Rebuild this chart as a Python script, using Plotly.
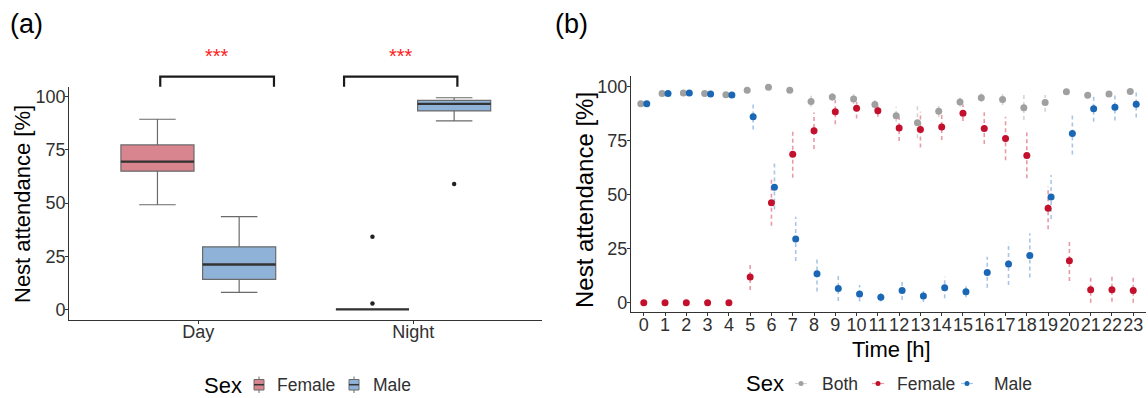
import plotly.graph_objects as go

W, H = 1148, 398
FONT = "Liberation Sans"

# ---------------- Panel (a) data ----------------
periods = ["Day", "Night"]
fem_q1 = [65.0, 0.0]
fem_med = [69.5, 0.0]
fem_q3 = [77.3, 0.0]
fem_lo = [49.2, 0.0]
fem_hi = [89.4, 0.0]
male_q1 = [14.1, 93.3]
male_med = [21.1, 96.6]
male_q3 = [29.4, 98.3]
male_lo = [8.0, 88.6]
male_hi = [43.6, 99.5]
fem_out_period = [2, 2]
fem_out_y = [34.1, 2.8]
male_out_period = [2]
male_out_y = [58.9]
sig_labels = ["***", "***"]

# ---------------- Panel (b) data ----------------
hours = list(range(24))
both_y = [92.1, 96.8, 97.1, 96.8, 96.3, 98.3, 99.7, 98.3, 93.1, 95.2, 94.3, 91.7,
          86.6, 83.3, 88.6, 92.9, 94.9, 94.1, 90.2, 92.7, 97.7, 96.0, 96.6, 97.8]
both_lo = [91.0, 96.0, 96.4, 96.0, 95.5, 97.6, 99.2, 97.6, 90.7, 93.5, 92.0, 89.5,
           83.8, 76.1, 86.0, 90.8, 92.8, 91.5, 84.6, 88.4, 96.5, 94.8, 95.4, 96.6]
both_hi = [93.2, 97.5, 97.8, 97.5, 97.0, 99.0, 100.0, 99.0, 96.0, 97.2, 96.5, 93.8,
           90.7, 91.5, 91.8, 95.0, 97.0, 96.9, 96.6, 96.2, 98.8, 97.2, 97.8, 99.0]
fem_y = [0.0, 0.0, 0.0, 0.0, 0.0, 11.9, 46.3, 68.7, 79.6, 88.4, 90.0, 88.9,
         80.9, 80.2, 81.3, 87.7, 80.7, 76.0, 68.2, 43.7, 19.4, 6.0, 6.0, 5.7]
fem_lo_b = [0.0, 0.0, 0.0, 0.0, 0.0, 5.9, 35.6, 57.9, 71.1, 82.6, 85.3, 86.1,
            74.8, 71.9, 75.3, 84.1, 73.5, 66.0, 57.6, 34.0, 10.0, 0.0, 0.4, 0.0]
fem_hi_b = [0.0, 0.0, 0.0, 0.0, 0.0, 18.0, 57.7, 79.6, 88.1, 93.8, 93.0, 91.8,
            86.1, 88.4, 88.4, 91.8, 88.2, 86.1, 78.8, 53.7, 28.5, 12.0, 12.0, 11.5]
male_y = [92.1, 96.8, 97.1, 96.6, 96.1, 86.1, 53.5, 29.5, 13.4, 6.6, 4.0, 2.5,
          5.6, 3.1, 6.9, 5.1, 14.0, 17.9, 21.9, 48.9, 78.3, 89.8, 90.5, 91.9]
male_lo_b = [91.0, 96.0, 96.4, 95.8, 95.3, 80.2, 43.2, 19.3, 5.2, 0.8, 0.5, 0.5,
             1.2, 0.3, 2.0, 2.5, 6.9, 8.2, 11.7, 38.7, 68.6, 83.8, 84.4, 85.7]
male_hi_b = [93.2, 97.5, 97.8, 97.4, 96.9, 92.7, 64.8, 39.8, 21.3, 12.8, 8.2, 4.5,
             10.0, 6.2, 12.0, 7.8, 21.3, 27.8, 32.1, 59.1, 88.0, 95.7, 96.6, 97.6]

# ---------------- styles ----------------
FEM_FILL = "#D8858F"
MALE_FILL = "#8FB2D8"
BOX_LINE = "#6a6a6a"
MED_LINE = "#333333"
C_BOTH = "#A0A0A0"
C_FEM = "#C3102C"
C_MALE = "#1A68B5"
E_BOTH = "rgba(160,160,160,0.45)"
E_FEM = "rgba(205,30,60,0.45)"
E_MALE = "rgba(40,110,190,0.40)"
AX = "#333333"
TXT = "#303030"

XA_RANGE = [0.4, 2.6]
YA_RANGE = [-5, 104.7]
XB_RANGE = [-0.6, 23.6]
YB_RANGE = [-4.45, 104.95]

DOM_XA = [69.3 / W, 542.3 / W]
DOM_YA = [1 - 320 / H, 1 - 86.7 / H]
DOM_XB = [631 / W, 1146 / W]
DOM_YB = [1 - 312.3 / H, 1 - 76 / H]

OFF = 0.19
BW = 0.34

fig = go.Figure()

# ---- Panel (a) boxes ----
for i, p in enumerate(periods):
    pos = i + 1
    for sex, off, fill, q1, med, q3, lo, hi in [
        ("Female", -OFF, FEM_FILL, fem_q1, fem_med, fem_q3, fem_lo, fem_hi),
        ("Male", OFF, MALE_FILL, male_q1, male_med, male_q3, male_lo, male_hi),
    ]:
        fig.add_trace(go.Box(
            x=[pos + off], q1=[q1[i]], median=[med[i]], q3=[q3[i]],
            lowerfence=[lo[i]], upperfence=[hi[i]],
            width=BW, fillcolor=fill, line=dict(color=BOX_LINE, width=1.2),
            boxpoints=False, name=sex, showlegend=False,
            xaxis="x", yaxis="y", hoverinfo="skip"))
        fig.add_trace(go.Scatter(
            x=[pos + off - BW / 2, pos + off + BW / 2], y=[med[i], med[i]],
            mode="lines", line=dict(color=MED_LINE, width=2.3),
            showlegend=False, xaxis="x", yaxis="y", hoverinfo="skip"))

fig.add_trace(go.Scatter(
    x=[p - OFF for p in fem_out_period], y=fem_out_y, mode="markers",
    marker=dict(color="#222222", size=4.5), showlegend=False, xaxis="x", yaxis="y"))
fig.add_trace(go.Scatter(
    x=[p + OFF for p in male_out_period], y=male_out_y, mode="markers",
    marker=dict(color="#222222", size=4.5), showlegend=False, xaxis="x", yaxis="y"))

# ---- Panel (b) point ranges ----
series = [
    ("Both", -0.14, C_BOTH, E_BOTH, both_y, both_lo, both_hi),
    ("Female", 0.0, C_FEM, E_FEM, fem_y, fem_lo_b, fem_hi_b),
    ("Male", 0.14, C_MALE, E_MALE, male_y, male_lo_b, male_hi_b),
]
for name, off, col, ecol, ys, los, his in series:
    ex, ey = [], []
    for h, lo, hi in zip(hours, los, his):
        ex += [h + off, h + off, None]
        ey += [lo, hi, None]
    fig.add_trace(go.Scatter(
        x=ex, y=ey, mode="lines", line=dict(color=ecol, width=1.6, dash="4px,3px"),
        showlegend=False, xaxis="x2", yaxis="y2", hoverinfo="skip"))
for name, off, col, ecol, ys, los, his in series:
    fig.add_trace(go.Scatter(
        x=[h + off for h in hours], y=ys, mode="markers",
        marker=dict(color=col, size=7), name=name, showlegend=False,
        xaxis="x2", yaxis="y2"))


# ---- helpers ----
def xd_a(v):
    return (v - XA_RANGE[0]) / (XA_RANGE[1] - XA_RANGE[0])


def yd_a(v):
    return (v - YA_RANGE[0]) / (YA_RANGE[1] - YA_RANGE[0])


def PX(x):
    return x / W


def PY(y):
    return 1 - y / H


shapes = []
annotations = []

# significance brackets (data units of panel a, drawn outside the plot area)
brackets = [(0.823, 1.352), (1.678, 2.205)]
br_low, br_high, star_y = 104.7, 109.4, 119.2
for (x0, x1), lab in zip(brackets, sig_labels):
    shapes.append(dict(
        type="path", xref="x domain", yref="y domain",
        path=f"M {xd_a(x0)},{yd_a(br_low)} L {xd_a(x0)},{yd_a(br_high)} "
             f"L {xd_a(x1)},{yd_a(br_high)} L {xd_a(x1)},{yd_a(br_low)}",
        line=dict(color="#1a1a1a", width=2.2)))
    annotations.append(dict(
        x=xd_a((x0 + x1) / 2), y=yd_a(star_y), xref="x domain", yref="y domain",
        text=lab, showarrow=False, xanchor="center", yanchor="middle",
        font=dict(family=FONT, size=20, color="#FF2020")))

# panel letters and axis titles
annotations += [
    dict(x=PX(26), y=PY(24), text="(a)", font=dict(family=FONT, size=27, color="black")),
    dict(x=PX(571), y=PY(24), text="(b)", font=dict(family=FONT, size=27, color="black")),
    dict(x=PX(22), y=PY(204), text="Nest attendance [%]", textangle=-90,
         font=dict(family=FONT, size=22, color="black")),
    dict(x=PX(585), y=PY(200), text="Nest attendance [%]", textangle=-90,
         font=dict(family=FONT, size=24, color="black")),
    dict(x=PX(891), y=PY(349), text="Time [h]", font=dict(family=FONT, size=22, color="black")),
]
for a in annotations[-5:]:
    a.update(xref="paper", yref="paper", showarrow=False, xanchor="center", yanchor="middle")

# ---- manual legends ----
LEG_Y_A = 385
annotations.append(dict(x=PX(201.5), y=PY(LEG_Y_A), text="Sex", xref="paper", yref="paper",
                        showarrow=False, xanchor="left", yanchor="middle",
                        font=dict(family=FONT, size=22, color="black")))
for cx, fill, lab, tx in [(259, FEM_FILL, "Female", 275), (354, MALE_FILL, "Male", 370.5)]:
    shapes.append(dict(type="line", xref="paper", yref="paper", x0=PX(cx), x1=PX(cx),
                       y0=PY(376.5), y1=PY(393), line=dict(color=BOX_LINE, width=1)))
    shapes.append(dict(type="rect", xref="paper", yref="paper", x0=PX(cx - 5), x1=PX(cx + 5),
                       y0=PY(379.5), y1=PY(390), fillcolor=fill,
                       line=dict(color=BOX_LINE, width=1)))
    shapes.append(dict(type="line", xref="paper", yref="paper", x0=PX(cx - 5), x1=PX(cx + 5),
                       y0=PY(384.7), y1=PY(384.7), line=dict(color=MED_LINE, width=1.5)))
    annotations.append(dict(x=PX(tx), y=PY(LEG_Y_A), text=lab, xref="paper", yref="paper",
                            showarrow=False, xanchor="left", yanchor="middle",
                            font=dict(family=FONT, size=17.5, color=TXT)))

LEG_Y_B = 383.5
annotations.append(dict(x=PX(743.5), y=PY(LEG_Y_B), text="Sex", xref="paper", yref="paper",
                        showarrow=False, xanchor="left", yanchor="middle",
                        font=dict(family=FONT, size=22, color="black")))
for cx, col, ecol, lab, tx in [(801, C_BOTH, E_BOTH, "Both", 820),
                               (878, C_FEM, E_FEM, "Female", 895),
                               (967, C_MALE, E_MALE, "Male", 991.5)]:
    shapes.append(dict(type="line", xref="paper", yref="paper", x0=PX(cx - 6), x1=PX(cx + 6),
                       y0=PY(LEG_Y_B), y1=PY(LEG_Y_B), line=dict(color=ecol, width=1.2)))
    shapes.append(dict(type="circle", xref="paper", yref="paper", x0=PX(cx - 2.5),
                       x1=PX(cx + 2.5), y0=PY(LEG_Y_B + 2.5), y1=PY(LEG_Y_B - 2.5),
                       fillcolor=col, line=dict(color=col, width=0)))
    annotations.append(dict(x=PX(tx), y=PY(LEG_Y_B), text=lab, xref="paper", yref="paper",
                            showarrow=False, xanchor="left", yanchor="middle",
                            font=dict(family=FONT, size=17.5, color=TXT)))

axis_common = dict(showline=True, linecolor=AX, linewidth=1.3, ticks="outside", ticklen=3,
                   tickcolor=AX, tickwidth=1, showgrid=False, zeroline=False,
                   tickfont=dict(family=FONT, size=18, color=TXT))

fig.update_layout(
    width=W, height=H, margin=dict(l=0, r=0, t=0, b=0),
    paper_bgcolor="white", plot_bgcolor="white", showlegend=False,
    xaxis=dict(domain=DOM_XA, range=XA_RANGE, tickvals=[1, 2], ticktext=periods,
               anchor="y", ticklabelstandoff=-8, **axis_common),
    yaxis=dict(domain=DOM_YA, range=YA_RANGE, tickvals=[0, 25, 50, 75, 100],
               anchor="x", ticklabelstandoff=-4, **axis_common),
    xaxis2=dict(domain=DOM_XB, range=XB_RANGE, tickvals=hours, tickangle=0,
                ticktext=[str(h) for h in hours], anchor="y2", ticklabelstandoff=-7,
                **axis_common),
    yaxis2=dict(domain=DOM_YB, range=YB_RANGE, tickvals=[0, 25, 50, 75, 100],
                anchor="x2", ticklabelstandoff=-4, **axis_common),
    shapes=shapes, annotations=annotations,
)

fig.write_html("out.html")
